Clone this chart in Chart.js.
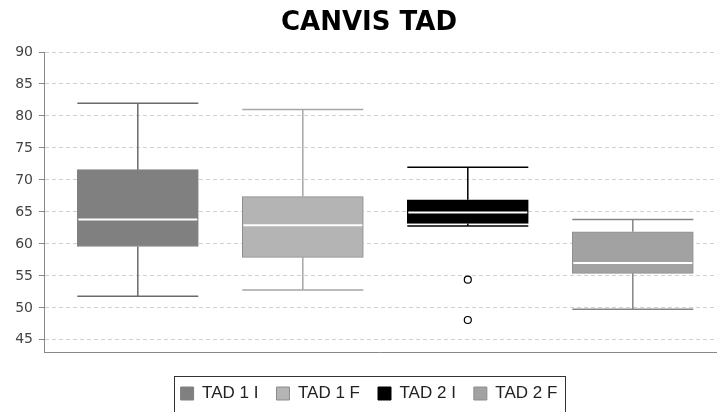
<!DOCTYPE html>
<html>
<head>
<meta charset="utf-8">
<script src="https://cdn.jsdelivr.net/npm/chart.js@4"></script>
<style>
  html, body { margin: 0; padding: 0; background: #fff; overflow: hidden; }
  #wrap { width: 718px; height: 412px; }
</style>
</head>
<body>
<div id="wrap"><canvas id="myChart"></canvas></div>
<script>
// values
const series = ['TAD 1 I', 'TAD 1 F', 'TAD 2 I', 'TAD 2 F'];
const whiskerHigh = [82.0, 81.0, 72.0, 63.8];
const q3 = [71.6, 67.4, 66.9, 61.9];
const median = [63.8, 62.9, 64.9, 57.0];
const q1 = [59.6, 57.9, 63.2, 55.4];
const whiskerLow = [51.8, 52.8, 62.8, 49.8];
const outliers = [[], [], [54.4, 48.1], []];
const yTicks = [45, 50, 55, 60, 65, 70, 75, 80, 85, 90];

const fills = ['#808080', '#b4b4b4', '#000000', '#a2a2a2'];
const edges = ['#808080', '#8c8c8c', '#000000', '#8e8e8e'];
const whiskerColors = ['#6a6a6a', '#a6a6a6', '#000000', '#858585'];

// whiskers, median and outliers on top of the floating bars
const boxPlot = {
    id: 'boxPlot',
    afterLayout(chart) {
        // let the y labels use the room left of the axis box (no clipping)
        chart.scales.y.left = 0;
    },
    afterDatasetsDraw(chart) {
        const ctx = chart.ctx;
        const y = chart.scales.y;
        chart.data.datasets.forEach((ds, i) => {
            const bar = chart.getDatasetMeta(i).data[0];
            if (!bar) return;
            const x = bar.x, half = bar.width / 2;
            const yHi = y.getPixelForValue(whiskerHigh[i]);
            const yLo = y.getPixelForValue(whiskerLow[i]);
            ctx.save();
            ctx.strokeStyle = whiskerColors[i];
            ctx.lineWidth = 1.5;
            ctx.beginPath();
            ctx.moveTo(x, y.getPixelForValue(q3[i]));
            ctx.lineTo(x, yHi);
            ctx.moveTo(x, y.getPixelForValue(q1[i]));
            ctx.lineTo(x, yLo);
            ctx.moveTo(x - half, yHi);
            ctx.lineTo(x + half, yHi);
            ctx.moveTo(x - half, yLo);
            ctx.lineTo(x + half, yLo);
            ctx.stroke();

            const yMed = y.getPixelForValue(median[i]);
            ctx.strokeStyle = '#ffffff';
            ctx.lineWidth = 2;
            ctx.beginPath();
            ctx.moveTo(x - half + 1, yMed);
            ctx.lineTo(x + half - 1, yMed);
            ctx.stroke();

            ctx.strokeStyle = '#000000';
            ctx.fillStyle = '#ffffff';
            ctx.lineWidth = 1.2;
            outliers[i].forEach(v => {
                ctx.beginPath();
                ctx.arc(x, y.getPixelForValue(v), 3.5, 0, Math.PI * 2);
                ctx.fill();
                ctx.stroke();
            });
            ctx.restore();
        });
    }
};

// frame round the legend
const legendFrame = {
    id: 'legendFrame',
    afterDraw(chart) {
        const boxes = chart.legend && chart.legend.legendHitBoxes;
        if (!boxes || !boxes.length) return;
        const ctx = chart.ctx;
        const first = boxes[0], last = boxes[boxes.length - 1];
        const left = Math.round(first.left - 7);
        const right = Math.round(last.left + last.width + 8);
        const top = Math.round(first.top - 9.5);
        ctx.save();
        ctx.strokeStyle = '#333333';
        ctx.lineWidth = 1;
        ctx.strokeRect(left + 0.5, top + 0.5, right - left, 60);
        ctx.restore();
    }
};

const ctx = document.getElementById('myChart').getContext('2d');
var myChart = new Chart(ctx, {
    type: 'bar',
    data: {
        datasets: series.map((name, i) => ({
            label: name,
            data: [{x: i, y: [q1[i], q3[i]]}],
            backgroundColor: fills[i],
            borderColor: edges[i],
            borderWidth: 1,
            borderSkipped: false,
            barThickness: 121,
            grouped: false
        }))
    },
    options: {
        responsive: true,
        maintainAspectRatio: false,
        animation: false,
        layout: {padding: {left: 22, right: 2, top: 0, bottom: 0}},
        scales: {
            x: {
                type: 'linear',
                offset: false,
                min: -0.5685,
                max: 3.5042,
                ticks: {display: false},
                grid: {display: false},
                border: {color: '#888888', width: 1},
                afterFit: s => { s.height = 15; }
            },
            y: {
                min: 43.1,
                max: 90,
                afterBuildTicks: s => { s.ticks = yTicks.map(v => ({value: v})); },
                afterFit: s => { s.width = 22; },
                ticks: {
                    color: '#444444',
                    padding: 6,
                    font: {family: 'DejaVu Sans', size: 14}
                },
                grid: {color: '#d0d0d0', tickColor: '#888888', tickLength: 5},
                border: {color: '#888888', width: 1, dash: [4, 3]}
            }
        },
        plugins: {
            title: {
                display: true,
                text: 'CANVIS TAD',
                color: '#000000',
                font: {family: 'DejaVu Sans', size: 26, weight: 'bold'},
                padding: {top: 8, bottom: 12.8}
            },
            legend: {
                position: 'bottom',
                labels: {
                    boxWidth: 13,
                    boxHeight: 13,
                    padding: 18,
                    color: '#222222',
                    font: {family: 'Liberation Sans', size: 17}
                }
            },
            tooltip: {enabled: false}
        }
    },
    plugins: [boxPlot, legendFrame]
});
</script>
</body>
</html>
